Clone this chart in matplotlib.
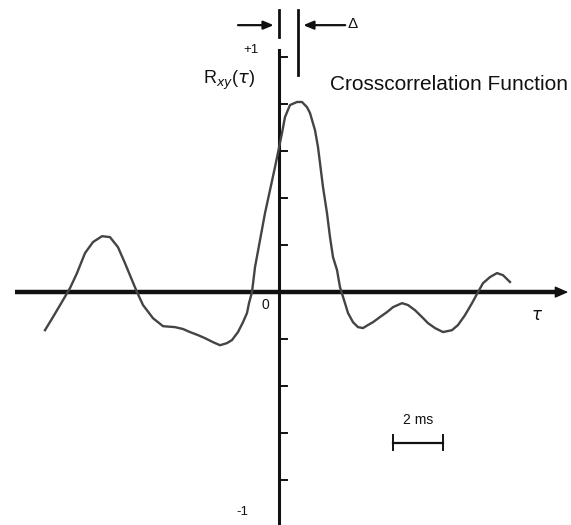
import numpy as np
import matplotlib
matplotlib.use("Agg")
import matplotlib.pyplot as plt

# Crosscorrelation curve (tau in ms, R_xy normalised)
tau_ms = [-9.36, -9.04, -8.64, -8.36, -8.08, -7.76, -7.44, -7.08, -6.76, -6.44,
          -6.16, -5.88, -5.68, -5.44, -5.04, -4.64, -4.16, -3.84, -3.56, -3.24,
          -2.96, -2.64, -2.36, -2.08, -1.88, -1.64, -1.44, -1.28, -1.20, -1.08,
          -0.96, -0.76, -0.56, -0.36, -0.16, 0.12, 0.24, 0.44, 0.72, 0.92,
          1.12, 1.24, 1.44, 1.56, 1.64, 1.76, 1.92, 2.04, 2.16, 2.32,
          2.44, 2.64, 2.76, 2.96, 3.16, 3.36, 3.56, 3.76, 4.04, 4.32,
          4.56, 4.92, 5.16, 5.44, 5.72, 5.96, 6.24, 6.56, 6.92, 7.16,
          7.44, 7.72, 7.96, 8.16, 8.44, 8.72, 8.96, 9.24]
r_xy = [-0.162, -0.106, -0.034, 0.017, 0.081, 0.166, 0.213, 0.238, 0.234, 0.191,
        0.123, 0.051, 0.0, -0.055, -0.111, -0.145, -0.149, -0.157, -0.170, -0.183,
        -0.196, -0.213, -0.226, -0.217, -0.204, -0.170, -0.128, -0.089, -0.047, 0.0,
        0.106, 0.221, 0.336, 0.434, 0.532, 0.677, 0.745, 0.796, 0.809, 0.809,
        0.787, 0.762, 0.689, 0.617, 0.549, 0.447, 0.336, 0.234, 0.149, 0.094,
        0.021, -0.047, -0.089, -0.128, -0.149, -0.153, -0.140, -0.128, -0.106, -0.085,
        -0.064, -0.047, -0.055, -0.077, -0.106, -0.132, -0.153, -0.170, -0.162, -0.140,
        -0.098, -0.047, 0.0, 0.038, 0.064, 0.081, 0.072, 0.043]

y_ticks = [-0.8, -0.6, -0.4, -0.2, 0.2, 0.4, 0.6, 0.8, 1.0]
delta_ms = 0.76
scale_bar_ms = 2

plt.rcParams["font.family"] = ["Liberation Sans", "DejaVu Sans"]
ink = "#111111"

fig = plt.figure(figsize=(5.71, 5.25), dpi=100)
ax = fig.add_axes([0, 0, 1, 1])
ax.set_xlim(-11.16, 11.68)
ax.set_ylim(-0.991, 1.243)
ax.axis("off")

# axes
ax.plot([-10.56, 11.2], [0, 0], color=ink, lw=3.2, solid_capstyle="butt")
ax.annotate("", xy=(11.68, 0), xytext=(11.0, 0),
            arrowprops=dict(arrowstyle="-|>,head_width=0.35,head_length=0.8",
                            color=ink, lw=1))
ax.plot([0, 0], [-0.991, 1.03], color=ink, lw=2.2)
for t in y_ticks:
    ax.plot([0, 0.3], [t, t], color=ink, lw=1.4)

# curve
ax.plot(tau_ms, r_xy, color="#444444", lw=1.7, solid_joinstyle="round")

# delta markers
ax.plot([0, 0], [1.085, 1.2], color=ink, lw=2)
ax.plot([delta_ms, delta_ms], [0.923, 1.2], color=ink, lw=2)
ax.annotate("", xy=(-0.1, 1.136), xytext=(-1.75, 1.136),
            arrowprops=dict(arrowstyle="-|>,head_width=0.25,head_length=0.6",
                            color=ink, lw=1.6))
ax.annotate("", xy=(delta_ms + 0.1, 1.136), xytext=(delta_ms + 2.0, 1.136),
            arrowprops=dict(arrowstyle="-|>,head_width=0.25,head_length=0.6",
                            color=ink, lw=1.6))
ax.text(2.95, 1.14, "Δ", fontsize=11, ha="center", va="center", color=ink)

# labels
ax.text(-1.1, 1.03, "+1", fontsize=9.5, ha="center", va="center", color=ink)
ax.text(-1.45, -0.935, "-1", fontsize=9.5, ha="center", va="center", color=ink)
ax.text(-0.55, -0.055, "0", fontsize=10, ha="center", va="center", color=ink)
ax.text(-2.0, 0.9, r"R$_{xy}$($\tau$)", fontsize=13, ha="center", va="center",
        color=ink)
ax.text(2.04, 0.883, "Crosscorrelation Function", fontsize=15, ha="left",
        va="center", color=ink)
ax.text(10.32, -0.098, r"$\tau$", fontsize=12, ha="center", va="center",
        color=ink)

# 2 ms scale bar
x0 = 4.56
ax.plot([x0, x0 + scale_bar_ms], [-0.642, -0.642], color=ink, lw=1.6)
for xe in (x0, x0 + scale_bar_ms):
    ax.plot([xe, xe], [-0.61, -0.67], color=ink, lw=1.4)
ax.text(x0 + scale_bar_ms / 2, -0.545, "2 ms", fontsize=10, ha="center",
        va="center", color=ink)

fig.savefig("out.png", dpi=100, facecolor="white")
